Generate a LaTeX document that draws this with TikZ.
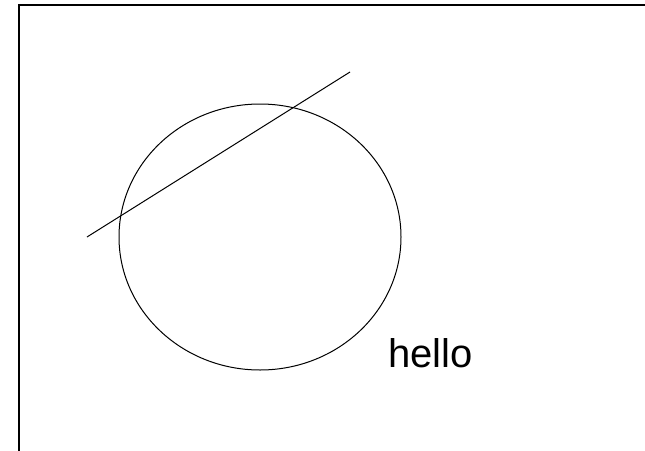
\documentclass[tikz,border=0pt]{standalone}
\usepackage{fontspec}
\setmainfont{Liberation Sans}
\usetikzlibrary{shapes.geometric}

\begin{document}
\begin{tikzpicture}[
        x=1pt, y=-1pt,
        frame/.style={draw, line width=1.5pt},
        outline/.style={draw, line width=1pt},
        label/.style={font=\fontsize{40}{48}\selectfont, inner sep=0pt, anchor=base west}
    ]
        \useasboundingbox (0,0) rectangle (645,450);
        \clip (0,0) rectangle (645,450);

        % Frame
        \draw[frame] (19,460) -- (19,5) -- (660,5);

        % Ellipse
        \node[outline, ellipse, minimum width=282pt, minimum height=266pt, inner sep=0pt] (oval) at (260,237) {};

        % Line
        \coordinate (start) at (87,237);
        \coordinate (end) at (350,72);
        \draw[outline] (start) -- (end);

        % Label
        \node[label] (hello) at (388,367) {hello};

    \end{tikzpicture}
\end{document}
